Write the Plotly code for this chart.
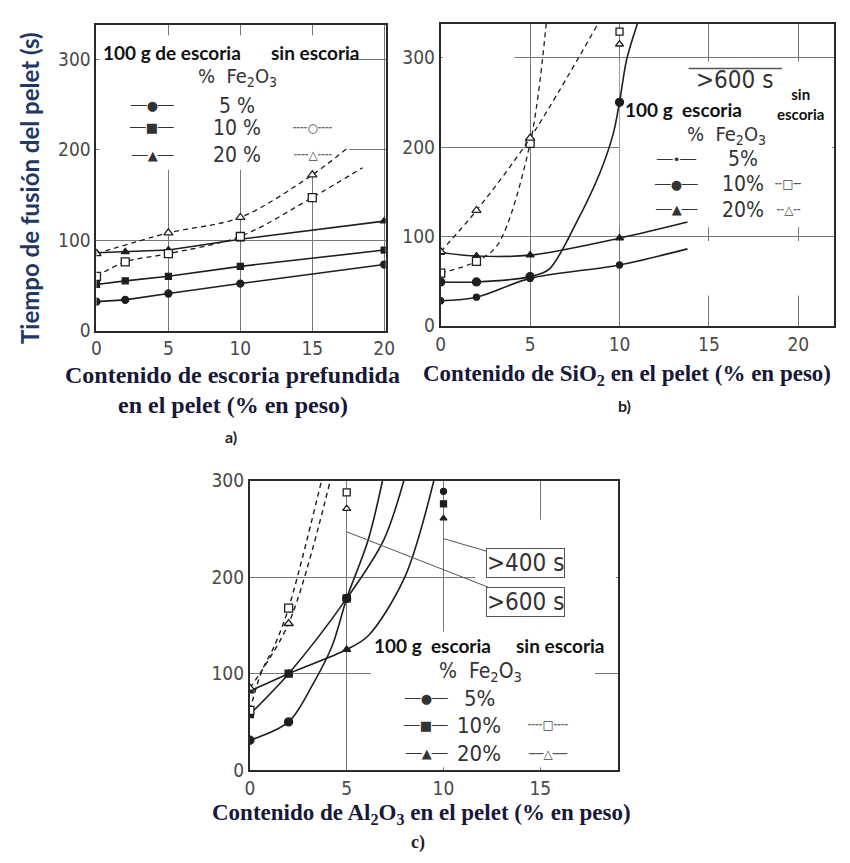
import plotly.graph_objects as go

# ---------------- DATA ----------------
# a) escoria prefundida
A_X = [0, 2, 5, 10, 20]
A_5 = [32, 34, 41, 52, 73]
A_10 = [51, 55, 60, 71, 89]
A_20 = [86, 87, 89, 101, 121]
A_SIN10_X = [0, 2, 5, 10, 15]
A_SIN10 = [60, 76, 85, 104, 147]
A_SIN20_X = [0, 5, 10, 15]
A_SIN20 = [85, 108, 125, 172]
A_SIN10_CURVE_X = [0, 2, 5, 10, 15, 18.5]
A_SIN10_CURVE = [60, 76, 85, 104, 147, 180]
A_SIN20_CURVE_X = [0, 5, 10, 15, 17.4]
A_SIN20_CURVE = [85, 108, 125, 172, 201]

# b) SiO2
B_X = [0, 2, 5, 10]
B_5 = [28, 32, 53, 68]
B_10 = [49, 49, 55, 250]
B_20 = [82, 78, 79, 98]
B_5_CURVE_X = [0, 2, 5, 10, 13.8]
B_5_CURVE = [28, 32, 53, 68, 86]
B_10_CURVE_X = [0, 2, 5, 6.05, 7.6, 8.9, 9.65, 10, 10.4, 11.0]
B_10_CURVE = [49, 49, 55, 63, 116, 171, 215, 250, 298, 338]
B_20_CURVE_X = [0, 2, 5, 10, 13.8]
B_20_CURVE = [82, 78, 79, 98, 116]
B_SIN_X = [0, 2, 5]
B_SIN10 = [59, 72, 204]
B_SIN20 = [83, 129, 210]
B_SIN10_CURVE_X = [0, 2, 3.2, 5, 5.9]
B_SIN10_CURVE = [59, 72, 91, 204, 338]
B_SIN20_CURVE_X = [0, 2, 5, 8.8]
B_SIN20_CURVE = [83, 129, 210, 338]
B_OFF_X = [10, 10]          # > 600 s (sin escoria 10 %, 20 %)
B_OFF_Y = [329, 315]

# c) Al2O3
C_X = [0, 2, 5]
C_5 = [31, 50, 178]
C_10 = [58, 100, 178]
C_20 = [82, 100, 125]
C_5_CURVE_X = [0, 2, 3.25, 4.25, 5, 6.1, 6.85]
C_5_CURVE = [31, 50, 89, 129, 178, 238, 300]
C_10_CURVE_X = [0, 2, 5, 6.9, 7.95]
C_10_CURVE = [58, 100, 178, 238, 300]
C_20_CURVE_X = [0, 2, 5, 6.1, 8.0, 9.5]
C_20_CURVE = [82, 100, 125, 139, 200, 300]
C_SIN_X = [0, 2]
C_SIN10 = [62, 168]
C_SIN20 = [85, 152]
C_SIN10_CURVE_X = [0, 0.6, 1.27, 2, 3.7]
C_SIN10_CURVE = [62, 102, 129, 168, 300]
C_SIN20_CURVE_X = [0, 2, 4.15]
C_SIN20_CURVE = [85, 152, 300]
C_OFF_ESC_X = [10, 10, 10]   # > 400 s (100 g escoria 5, 10, 20 %)
C_OFF_ESC_Y = [289, 276, 261]
C_OFF_SIN_X = [5, 5]         # > 600 s (sin escoria 10, 20 %)
C_OFF_SIN_Y = [288, 271]

X_TICKS_AB = [0, 5, 10, 15, 20]
X_TICKS_C = [0, 5, 10, 15]
Y_TICKS = [0, 100, 200, 300]

# ---------------- LAYOUT HELPERS ----------------
W, H = 850, 863
def px(x):
    return x / W
def py(y):
    return 1 - y / H

BOX = {  # pixel boxes L, R, T, B
    "a": (93, 387, 14, 328),
    "b": (443, 843, 13, 323),
    "c": (249, 623, 482, 779),
}
RANGES = {"a": ([0, 20.1], [0, 338], X_TICKS_AB),
          "b": ([0, 22], [0, 338], X_TICKS_AB),
          "c": ([0, 19], [0, 300], X_TICKS_C)}
AX = {"a": ("x", "y"), "b": ("x2", "y2"), "c": ("x3", "y3")}

INK = "#1e1e1e"
fig = go.Figure()

def line(panel, xs, ys, dash="solid", shape="linear", width=1.6):
    xa, ya = AX[panel]
    fig.add_trace(go.Scatter(x=xs, y=ys, mode="lines", xaxis=xa, yaxis=ya,
                             line=dict(color=INK, width=width, dash=dash, shape=shape, smoothing=0.9),
                             showlegend=False, hoverinfo="skip"))

def marks(panel, xs, ys, symbol, size=7, hollow=False):
    xa, ya = AX[panel]
    fig.add_trace(go.Scatter(x=xs, y=ys, mode="markers", xaxis=xa, yaxis=ya,
                             marker=dict(symbol=symbol, size=size, color="white" if hollow else INK,
                                         line=dict(color=INK, width=1.3)),
                             showlegend=False, hoverinfo="skip"))

DASH = "5px,4px"
# panel a
line("a", A_X, A_5); marks("a", A_X, A_5, "circle")
line("a", A_X, A_10); marks("a", A_X, A_10, "square", 6)
line("a", A_X, A_20); marks("a", A_X, A_20, "triangle-up", 7)
line("a", A_SIN10_CURVE_X, A_SIN10_CURVE, DASH, "spline", 1.3); marks("a", A_SIN10_X, A_SIN10, "square", 8, True)
line("a", A_SIN20_CURVE_X, A_SIN20_CURVE, DASH, "spline", 1.3); marks("a", A_SIN20_X, A_SIN20, "triangle-up", 8, True)
# panel b
line("b", B_5_CURVE_X, B_5_CURVE, shape="spline"); marks("b", B_X, B_5, "circle", 6)
line("b", B_10_CURVE_X, B_10_CURVE, shape="spline"); marks("b", B_X, B_10, "circle", 8)
line("b", B_20_CURVE_X, B_20_CURVE, shape="spline"); marks("b", B_X, B_20, "triangle-up", 7)
line("b", B_SIN10_CURVE_X, B_SIN10_CURVE, DASH, "spline", 1.3); marks("b", B_SIN_X, B_SIN10, "square", 8, True)
line("b", B_SIN20_CURVE_X, B_SIN20_CURVE, DASH, "spline", 1.3); marks("b", B_SIN_X, B_SIN20, "triangle-up", 8, True)
marks("b", B_OFF_X[:1], B_OFF_Y[:1], "square", 7, True)
marks("b", B_OFF_X[1:], B_OFF_Y[1:], "triangle-up", 7, True)
# panel c
line("c", C_5_CURVE_X, C_5_CURVE, shape="spline"); marks("c", C_X, C_5, "circle", 8)
line("c", C_10_CURVE_X, C_10_CURVE, shape="spline"); marks("c", C_X, C_10, "square", 7)
line("c", C_20_CURVE_X, C_20_CURVE, shape="spline"); marks("c", C_X, C_20, "triangle-up", 7)
line("c", C_SIN10_CURVE_X, C_SIN10_CURVE, DASH, "spline", 1.4); marks("c", C_SIN_X, C_SIN10, "square", 8, True)
line("c", C_SIN20_CURVE_X, C_SIN20_CURVE, DASH, "spline", 1.4); marks("c", C_SIN_X, C_SIN20, "triangle-up", 8, True)
marks("c", C_OFF_ESC_X[:1], C_OFF_ESC_Y[:1], "circle", 6)
marks("c", C_OFF_ESC_X[1:2], C_OFF_ESC_Y[1:2], "square", 6)
marks("c", C_OFF_ESC_X[2:], C_OFF_ESC_Y[2:], "triangle-up", 6)
marks("c", C_OFF_SIN_X[:1], C_OFF_SIN_Y[:1], "square", 7, True)
marks("c", C_OFF_SIN_X[1:], C_OFF_SIN_Y[1:], "triangle-up", 7, True)

# ---------------- AXES ----------------
TICKFONT = dict(family="DejaVu Sans Condensed, Liberation Sans Narrow, DejaVu Sans, sans-serif",
                size=19, color="#4a4a4a")
layout_axes = {}
for i, p in enumerate(["a", "b", "c"]):
    L, R, T, B = BOX[p]
    xr, yr, xt = RANGES[p]
    sfx = "" if i == 0 else str(i + 1)
    common = dict(showline=True, mirror=True, linecolor="#2a2a2a", linewidth=2,
                  showgrid=True, gridcolor="#777777", gridwidth=1, zeroline=False,
                  tickfont=TICKFONT, ticks="")
    layout_axes["xaxis" + sfx] = dict(domain=[px(L), px(R)], range=xr, tickvals=xt,
                                      anchor="y" + sfx, **common)
    layout_axes["yaxis" + sfx] = dict(domain=[py(B), py(T)], range=yr, tickvals=Y_TICKS,
                                      anchor="x" + sfx, **common)
fig.update_layout(**layout_axes)

# ---------------- white masks hiding grid behind legends ----------------
def mask(panel, x0, x1, y0, y1):
    L, R, T, B = BOX[panel]
    xr, yr, _ = RANGES[panel]
    xa, ya = AX[panel]
    fx = lambda v: xr[0] + (v - L) / (R - L) * (xr[1] - xr[0])
    fy = lambda v: yr[0] + (B - v) / (B - T) * (yr[1] - yr[0])
    fig.add_shape(type="rect", xref=xa, yref=ya, x0=fx(x0), x1=fx(x1), y0=fy(y1), y1=fy(y0),
                  fillcolor="white", line=dict(width=0), layer="between")

mask("a", 96, 350, 25, 163)
mask("b", 625, 841, 52, 222)
mask("b", 690, 841, 236, 292)
mask("b", 445, 518, 44, 52)
mask("c", 478, 621, 522, 637)
mask("c", 372, 600, 637, 776)

# ---------------- TEXT ----------------
ann = []
def text(t, x, y, size=18, family=None, color="#333", xanchor="center", angle=0, weight="normal"):
    ann.append(dict(text=t, x=px(x), y=py(y), xref="paper", yref="paper", showarrow=False,
                    xanchor=xanchor, yanchor="middle", textangle=angle,
                    font=dict(size=size, family=family or TICKFONT["family"], color=color, weight=weight)))

BOLD = "Lato, Open Sans, sans-serif"
SERIF = "Liberation Serif, Times New Roman, serif"
SYM = "DejaVu Sans, sans-serif"
FE = "%  Fe<sub>2</sub>O<sub>3</sub>"
NAVY = "#181838"
B_ = "bold"

text("Tiempo de fusión del pelet (s)", 25, 182, 24, BOLD, "#1f3864", angle=-90, weight=B_)
text("Contenido de escoria prefundida", 231, 374, 24, SERIF, NAVY, weight=B_)
text("en el pelet (% en peso)", 232, 404, 24, SERIF, NAVY, weight=B_)
text("a)", 230, 437, 16, BOLD, "#222", weight=B_)
text("Contenido de SiO<sub>2</sub> en el pelet (% en peso)", 632, 374, 23, SERIF, NAVY, weight=B_)
text("b)", 630, 405, 16, BOLD, "#222", weight=B_)
text("Contenido de Al<sub>2</sub>O<sub>3</sub> en el pelet (% en peso)", 423, 824, 23, SERIF, NAVY, weight=B_)
text("c)", 420, 853, 18, SERIF, "#222", weight=B_)

SOLID_C, SOLID_S, SOLID_T = "──●──", "──■──", "──▲──"

# legend a
text("100 g de escoria", 98, 43, 19, BOLD, "#111", xanchor="left", weight=B_)
text("sin escoria", 268, 43, 19, BOLD, "#111", xanchor="left", weight=B_)
text(FE, 236, 68, 20)
for yy, s, lab, d in [(97, SOLID_C, "5 %", None), (120, SOLID_S, "10 %", "╌╌○╌╌"), (148, SOLID_T, "20 %", "╌╌△╌╌")]:
    text(s, 149, yy, 13, SYM, "#333")
    text(lab, 236, yy, 21)
    if d:
        text(d, 313, yy, 12, SYM, "#444")

# legend b
text(">600 s", 742, 71, 24)
fig.add_shape(type="line", xref="paper", yref="paper", x0=px(695), x1=px(790), y0=py(59), y1=py(59),
              line=dict(color="#555", width=1.3))
text("100 g  escoria", 628, 101, 19, BOLD, "#111", xanchor="left", weight=B_)
text("sin<br>escoria", 809, 95, 15, BOLD, "#111", weight=B_)
text(FE, 734, 127, 20)
for yy, s, lab, d in [(152, "──•──", "5%", None), (178, SOLID_C, "10%", "╌□─"), (204, SOLID_T, "20%", "╌△╌")]:
    text(s, 682, yy, 13, SYM, "#333")
    text(lab, 750, yy, 21)
    if d:
        text(d, 797, yy, 12, SYM, "#444")

# legend c
text("100 g  escoria", 373, 651, 19, BOLD, "#111", xanchor="left", weight=B_)
text("sin escoria", 518, 651, 19, BOLD, "#111", xanchor="left", weight=B_)
text(FE, 483, 678, 21)
for yy, s, lab, d in [(705, SOLID_C, "5%", None), (733, SOLID_S, "10%", "╌╌□╌╌"), (762, SOLID_T, "20%", "──△──")]:
    text(s, 428, yy, 13, SYM, "#333")
    text(lab, 482, yy, 22)
    if d:
        text(d, 552, yy, 12, SYM, "#444")

# >400 s / >600 s call-outs in panel c (lines from the labels to the off-scale points)
CALLFONT = dict(size=24, family=TICKFONT["family"], color="#333")
ann.append(dict(text=">400 s", x=10, y=240, xref="x3", yref="y3", showarrow=True, arrowhead=0,
                arrowwidth=1, arrowcolor="#555", ax=82, ay=24, bordercolor="#555", borderwidth=1,
                borderpad=0, bgcolor="white", font=CALLFONT))
ann.append(dict(text=">600 s", x=5, y=247, xref="x3", yref="y3", showarrow=True, arrowhead=0,
                arrowwidth=1, arrowcolor="#555", ax=179, ay=70, bordercolor="#555", borderwidth=1,
                borderpad=0, bgcolor="white", font=CALLFONT))

fig.update_layout(annotations=ann, width=W, height=H, margin=dict(l=0, r=0, t=0, b=0),
                  paper_bgcolor="white", plot_bgcolor="white", showlegend=False)

fig.write_html("out.html")
